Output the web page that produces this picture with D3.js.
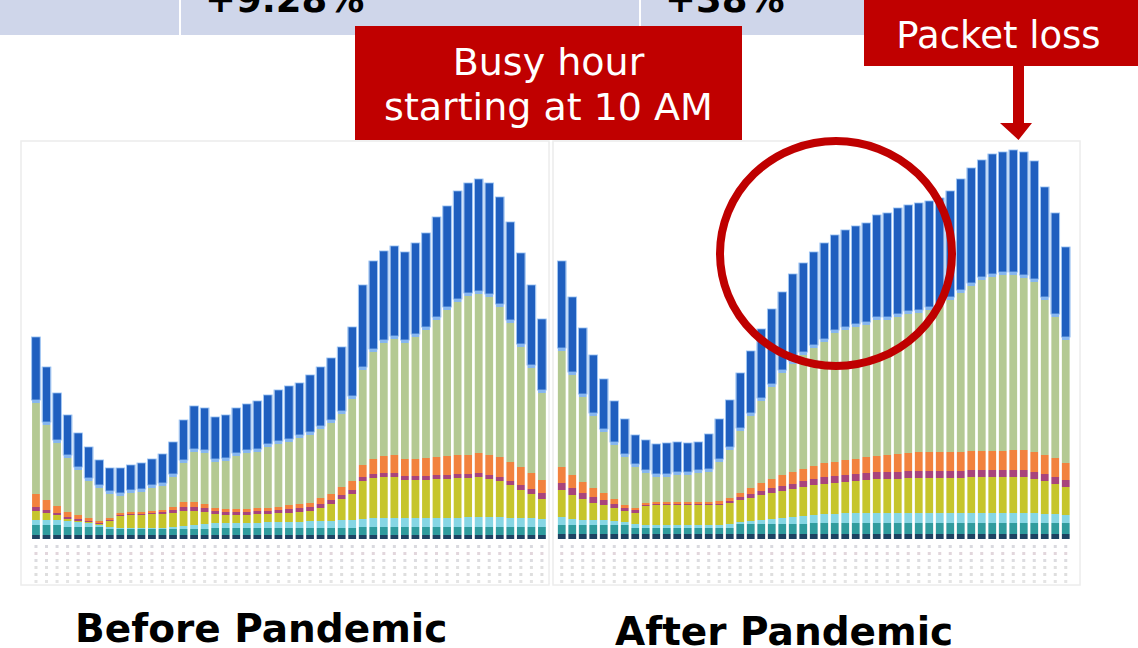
<!DOCTYPE html>
<html>
<head>
<meta charset="utf-8">
<script src="https://cdn.jsdelivr.net/npm/d3@7"></script>
<style>
  html, body { margin: 0; padding: 0; background: #ffffff; }
  svg { display: block; }
</style>
</head>
<body>
<div id="chart"></div>
<script>
// half-hour slots, 0:00 .. 24:00
const slots = d3.range(49);

const layers = ["navy", "teal", "cyan", "yellow", "purple", "orange", "green", "lightblue", "blue"];
const colors = {
    navy: "#1d4262",
    teal: "#2f9c9e",
    cyan: "#86d6e4",
    yellow: "#c6c52c",
    purple: "#a8447c",
    orange: "#f2823e",
    green: "#b4c993",
    lightblue: "#86b6ee",
    blue: "#1f5fbf"
};

// ---- Before pandemic ----
const beforeNavy = [4,4,4,4,4,4,4,4,4,4,4,4,4,4,4,4,4,4,4,4,4,4,4,4,4,4,4,4,4,4,4,4,4,4,4,4,4,4,4,4,4,4,4,4,4,4,4,4,4];
const beforeTeal = [10,10,10,8,8,8,8,6,6,6,6,6,6,6,6,6,6,7,7,7,7,7,7,7,7,7,7,7,7,7,7,8,8,8,8,8,8,8,8,8,8,8,8,8,8,8,8,8,8];
const beforeCyan = [5,5,5,6,5,4,2,2,1,1,1,1,1,2,3,4,5,5,5,5,5,5,6,6,6,6,7,7,7,8,8,8,9,9,9,9,9,9,9,9,9,10,10,10,10,9,9,9,8];
const beforeYellow = [9,7,5,2,1,1,1,6,12,13,13,14,14,14,15,14,12,9,8,8,8,9,8,9,9,10,10,13,17,21,26,38,40,41,41,38,38,38,39,39,40,39,40,38,36,33,28,24,20];
const beforePurple = [4,3,2,2,2,1,1,1,1,1,1,1,2,3,4,4,4,3,3,3,3,3,3,3,4,4,4,4,4,4,4,4,4,4,4,4,4,4,4,4,4,4,4,4,4,4,5,5,6];
const beforeOrange = [13,10,7,5,4,3,2,2,2,2,2,2,2,3,5,5,4,3,3,3,3,3,3,3,4,4,4,6,6,8,9,12,15,17,18,17,17,18,18,19,19,19,20,20,20,19,18,16,13];
const beforeGreen = [91,75,63,54,45,37,33,24,17,19,20,23,24,30,39,50,51,46,48,53,56,56,61,63,63,66,68,69,71,73,82,95,107,113,116,116,122,128,137,146,153,159,159,158,150,139,120,105,87];
const beforeLightBlue = [3,3,3,3,3,3,3,3,3,3,3,3,3,3,3,3,3,3,3,3,3,3,3,3,3,3,3,3,3,3,3,3,3,3,3,3,3,3,3,3,3,3,3,3,3,3,3,3,3];
const beforeBlue = [63,55,47,40,34,31,25,23,25,25,26,26,29,32,40,43,42,42,43,45,46,48,49,51,53,52,57,59,62,64,69,82,88,89,90,88,91,94,100,101,108,110,112,111,107,98,91,80,71];

// ---- After pandemic ----
const afterNavy = [5,5,5,5,5,5,5,5,5,5,5,5,5,5,5,5,5,5,5,5,5,5,5,5,5,5,5,5,5,5,5,5,5,5,5,5,5,5,5,5,5,5,5,5,5,5,5,5,5];
const afterTeal = [9,9,9,9,9,9,9,6,6,6,6,6,6,6,6,6,6,10,10,10,10,10,10,10,11,11,11,11,11,11,11,11,11,11,11,11,11,11,11,11,11,11,11,11,11,11,11,11,11];
const afterCyan = [8,6,5,5,5,4,3,4,3,3,3,3,3,3,3,3,4,2,3,4,5,6,7,8,8,9,9,10,10,10,10,10,10,10,10,10,10,10,10,10,10,10,10,10,10,10,9,9,8];
const afterYellow = [27,24,21,17,15,13,11,11,19,20,20,20,20,20,20,20,21,22,23,25,26,27,28,29,30,30,31,31,32,33,34,34,34,35,35,35,35,35,35,36,36,36,36,36,36,34,33,30,28];
const afterPurple = [7,7,6,6,5,4,3,3,1,1,1,1,1,1,1,1,2,3,4,4,5,5,5,6,6,7,7,7,7,7,7,7,7,7,7,7,7,7,7,7,7,7,7,7,7,7,7,7,7];
const afterOrange = [16,13,11,9,7,5,3,2,2,2,2,2,2,2,2,3,3,4,6,8,9,11,12,12,13,14,14,15,15,16,16,17,18,18,19,19,19,19,19,19,19,19,19,20,20,20,19,19,17];
const afterGreen = [116,100,85,72,61,54,48,41,30,25,25,27,27,29,30,39,48,62,72,82,92,102,108,114,118,121,129,130,132,132,136,135,137,139,139,142,146,152,159,165,171,174,176,175,172,170,155,141,123];
const afterLightBlue = [3,3,3,3,3,3,3,3,3,3,3,3,3,3,3,3,3,3,3,3,3,3,3,3,3,3,3,3,3,3,3,3,3,3,3,3,3,3,3,3,3,3,3,3,3,3,3,3,3];
const afterBlue = [87,75,66,58,50,41,35,29,30,30,31,30,29,28,35,40,47,55,62,69,75,78,87,89,93,96,95,97,98,99,102,104,106,106,107,106,105,106,111,115,117,120,120,122,123,118,110,101,90];

const topCells = ["+9.28%", "+38%"];
const panelTitles = ["Before Pandemic", "After Pandemic"];

const buildTable = (arrs) => slots.map((s, i) => {
    const row = { slot: s };
    layers.forEach((k, j) => { row[k] = arrs[j][i]; });
    return row;
});

const beforeTable = buildTable([beforeNavy, beforeTeal, beforeCyan, beforeYellow, beforePurple, beforeOrange, beforeGreen, beforeLightBlue, beforeBlue]);
const afterTable = buildTable([afterNavy, afterTeal, afterCyan, afterYellow, afterPurple, afterOrange, afterGreen, afterLightBlue, afterBlue]);

const W = 1138, H = 648;
const red = "#c00000";

const svg = d3.select("#chart").append("svg")
    .attr("width", W)
    .attr("height", H)
    .attr("font-family", "'DejaVu Sans', Verdana, sans-serif");

// top table strip (cut off)
svg.append("rect")
    .attr("x", 0).attr("y", 0)
    .attr("width", 870).attr("height", 35)
    .attr("fill", "#cfd6ea");
[179, 639].forEach(x => {
    svg.append("rect").attr("x", x).attr("y", 0).attr("width", 2).attr("height", 35).attr("fill", "#ffffff");
});
svg.append("text").attr("x", 205).attr("y", 12).attr("font-size", 37).attr("font-weight", "bold").attr("fill", "#000").text(topCells[0]);
svg.append("text").attr("x", 665).attr("y", 12).attr("font-size", 37).attr("font-weight", "bold").attr("fill", "#000").text(topCells[1]);

const yScale = d3.scaleLinear().domain([0, 400]).range([539, 139]);
const stack = d3.stack().keys(layers);

const drawPanel = (table, range, frame) => {
    const g = svg.append("g");
    g.append("rect")
        .attr("x", frame[0]).attr("y", 141)
        .attr("width", frame[1] - frame[0]).attr("height", 444)
        .attr("fill", "#ffffff")
        .attr("stroke", "#ececec")
        .attr("stroke-width", 1.5);

    const xScale = d3.scaleBand().domain(slots).range(range).paddingInner(0.26).paddingOuter(0.13);

    const series = stack(table);
    g.selectAll(".layer")
        .data(series)
        .enter()
        .append("g")
        .attr("class", "layer")
        .attr("fill", d => colors[d.key])
        .selectAll("rect")
        .data(d => d)
        .enter()
        .append("rect")
        .attr("x", d => xScale(d.data.slot))
        .attr("y", d => yScale(d[1]))
        .attr("width", xScale.bandwidth())
        .attr("height", d => yScale(d[0]) - yScale(d[1]));

    // light fringe on the blue part
    g.selectAll(".fringe")
        .data(series[series.length - 1])
        .enter()
        .append("rect")
        .attr("class", "fringe")
        .attr("x", d => xScale(d.data.slot) - 0.5)
        .attr("y", d => yScale(d[1]))
        .attr("width", xScale.bandwidth() + 1)
        .attr("height", d => yScale(d[0]) - yScale(d[1]))
        .attr("fill", "none")
        .attr("stroke", "#8dbaf0")
        .attr("stroke-width", 0.8);

    // faint data table under the bars
    const rowYs = [545, 552, 559, 566, 573, 580];
    const rowColors = ["#d9d9de", "#e2d6dc", "#dcdce0", "#e0e0e0", "#dedede", "#e4e4e4"];
    rowYs.forEach((ry, r) => {
        g.selectAll(".cell" + r)
            .data(slots)
            .enter()
            .append("rect")
            .attr("x", d => xScale(d) + xScale.bandwidth() / 2 - 1.5)
            .attr("y", ry)
            .attr("width", 3)
            .attr("height", 3)
            .attr("fill", rowColors[r]);
    });
};

drawPanel(beforeTable, [30.7, 547.2], [21, 549]);
drawPanel(afterTable, [556.5, 1071], [553, 1080]);

// callout: busy hour
svg.append("rect")
    .attr("x", 355).attr("y", 26)
    .attr("width", 387).attr("height", 114)
    .attr("fill", red);
svg.append("text").attr("x", 548.5).attr("y", 75).attr("text-anchor", "middle")
    .attr("font-size", 38).attr("fill", "#fff").text("Busy hour");
svg.append("text").attr("x", 548.5).attr("y", 120).attr("text-anchor", "middle")
    .attr("font-size", 38).attr("fill", "#fff").text("starting at 10 AM");

// callout: packet loss
svg.append("rect")
    .attr("x", 864).attr("y", 0)
    .attr("width", 274).attr("height", 66)
    .attr("fill", red);
svg.append("text").attr("x", 998.5).attr("y", 48).attr("text-anchor", "middle")
    .attr("font-size", 37).attr("fill", "#fff").text("Packet loss");
svg.append("path")
    .attr("d", "M1013,66 L1024,66 L1024,123 L1032,123 L1018.5,140 L1000,123 L1013,123 Z")
    .attr("fill", red);

// circle around the busy hour plateau
svg.append("ellipse")
    .attr("cx", 836).attr("cy", 253.5)
    .attr("rx", 116).attr("ry", 112.5)
    .attr("fill", "none")
    .attr("stroke", "#bf0000")
    .attr("stroke-width", 8);

// panel titles
svg.append("text").attr("x", 75).attr("y", 642)
    .attr("font-size", 39).attr("font-weight", "bold").attr("fill", "#000").text(panelTitles[0]);
svg.append("text").attr("x", 615).attr("y", 645)
    .attr("font-size", 39).attr("font-weight", "bold").attr("fill", "#000").text(panelTitles[1]);
</script>
</body>
</html>
